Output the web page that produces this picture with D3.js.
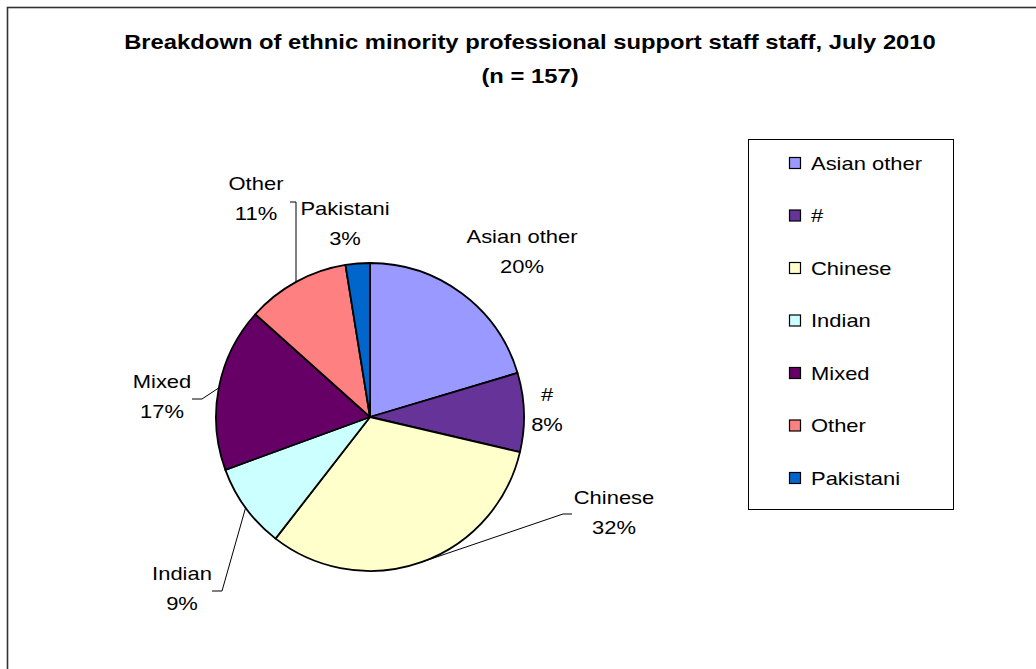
<!DOCTYPE html>
<html>
<head>
<meta charset="utf-8">
<script src="https://cdn.jsdelivr.net/npm/d3@7"></script>
<style>
  html, body { margin: 0; padding: 0; background: #fff; }
  svg { display: block; font-family: "Liberation Sans", Arial, sans-serif; }
</style>
</head>
<body>
<svg id="chart" width="1036" height="669"></svg>
<script>
// Staff counts by ethnic group (n = 157)
const categories = ["Asian other", "#", "Chinese", "Indian", "Mixed", "Other", "Pakistani"];
const counts = [32, 13, 50, 14, 27, 17, 4];
const colours = ["#9999FF", "#663399", "#FFFFCC", "#CCFFFF", "#660066", "#FF8080", "#0066CC"];
const titleLines = ["Breakdown of ethnic minority professional support staff staff, July 2010", "(n = 157)"];

const svg = d3.select("#chart");
const W = 1036, H = 669;
const SX = 1.22; // horizontal stretch of the chart's text

// chart frame
svg.append("rect")
  .attr("x", 7.5).attr("y", 7.5)
  .attr("width", W + 10).attr("height", H + 10)
  .attr("fill", "#fff").attr("stroke", "#333").attr("stroke-width", 1.6);

// title
svg.append("g").selectAll("g").data(titleLines).join("g")
  .attr("transform", (d, i) => `translate(530,${49 + i * 34}) scale(${SX},1)`)
  .append("text")
  .attr("text-anchor", "middle")
  .attr("font-weight", "bold").attr("font-size", 19.5)
  .attr("fill", "#000")
  .text(d => d);

const cx = 370, cy = 417, R = 154;
const total = d3.sum(counts);
const data = categories.map((c, i) => ({ cat: c, value: counts[i], colour: colours[i] }));

const pie = d3.pie().sort(null).value(d => d.value);
const arcs = pie(data);
const arc = d3.arc().innerRadius(0).outerRadius(R);

const g = svg.append("g").attr("transform", `translate(${cx},${cy})`);
g.selectAll("path").data(arcs).join("path")
  .attr("d", arc)
  .attr("fill", d => d.data.colour)
  .attr("stroke", "#000").attr("stroke-width", 1.8)
  .attr("stroke-linejoin", "round");

// label placement relative to pie centre: label centre (lx, ly) and optional leader elbow
const labelLayout = {
  "Asian other": { lx: 152, ly: -165 },
  "#":           { lx: 177, ly: -7 },
  "Chinese":     { lx: 244, ly: 96, elbow: [193, 97], end: [202, 97] },
  "Indian":      { lx: -188, ly: 172, elbow: [-148, 174], end: [-158, 174] },
  "Mixed":       { lx: -208, ly: -20, elbow: [-168, -18], end: [-178, -18] },
  "Other":       { lx: -114, ly: -218, elbow: [-74, -215], end: [-80, -215], vertical: true },
  "Pakistani":   { lx: -25, ly: -193 }
};

const fmt = v => Math.round(v / total * 100) + "%";
const lab = g.append("g");
arcs.forEach(a => {
  const L = labelLayout[a.data.cat];
  if (L.elbow) {
    const mid = (a.startAngle + a.endAngle) / 2;
    const ex = R * Math.sin(mid), ey = -R * Math.cos(mid);
    const pts = L.vertical
      ? [L.end, L.elbow, [L.elbow[0], ey]]
      : [L.end, L.elbow, [ex, ey]];
    lab.append("path")
      .attr("d", d3.line()(pts))
      .attr("fill", "none").attr("stroke", "#000").attr("stroke-width", 1);
  }
  [a.data.cat, fmt(a.data.value)].forEach((s, k) => {
    lab.append("g")
      .attr("transform", `translate(${L.lx},${L.ly - 9 + k * 30}) scale(${SX},1)`)
      .append("text")
      .attr("text-anchor", "middle")
      .attr("font-size", 18)
      .attr("fill", "#000")
      .text(s);
  });
});

// legend
const lg = svg.append("g");
lg.append("rect")
  .attr("x", 748.5).attr("y", 139.5).attr("width", 205).attr("height", 370)
  .attr("fill", "#fff").attr("stroke", "#000").attr("stroke-width", 1);
const rows = lg.selectAll("g.row").data(data).join("g")
  .attr("class", "row")
  .attr("transform", (d, i) => `translate(789,${163 + i * 52.5})`);
rows.append("rect")
  .attr("x", 0.5).attr("y", -5.5).attr("width", 11).attr("height", 11)
  .attr("fill", d => d.colour).attr("stroke", "#000").attr("stroke-width", 1.2);
rows.append("g")
  .attr("transform", `translate(22,6.5) scale(${SX},1)`)
  .append("text")
  .attr("font-size", 18)
  .attr("fill", "#000")
  .text(d => d.cat);
</script>
</body>
</html>
